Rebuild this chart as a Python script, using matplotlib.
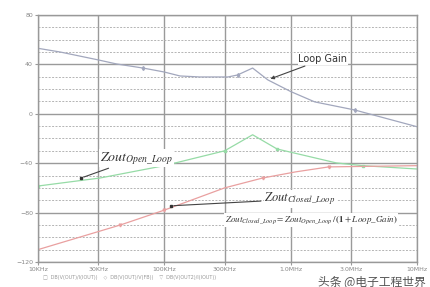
import numpy as np
import matplotlib
matplotlib.use("Agg")
import matplotlib.pyplot as plt

plt.rcParams["mathtext.fontset"] = "stix"

# values (frequency in Hz, level in dB)
loop_f = [1e4, 1.5e4, 3.0e4, 4.2e4, 6.8e4, 1.0e5, 1.33e5, 1.9e5, 3.2e5, 3.8e5, 5.0e5, 6.6e5, 1.0e6, 1.55e6, 3.2e6, 1.0e7]
loop_db = [53, 50, 43.6, 40.3, 37, 33.8, 30.6, 29.8, 29.8, 31.4, 37, 27.4, 18, 9.6, 3.1, -10.5]

zol_f = [1e4, 3.1e4, 1.0e5, 3.0e5, 5.0e5, 7.8e5, 2.3e6, 3.7e6, 1.0e7]
zol_db = [-58.5, -52, -42, -30, -17, -28.5, -39.8, -42, -44.7]

zcl_f = [1e4, 4.5e4, 1.0e5, 3.0e5, 6.0e5, 1.1e6, 2.0e6, 1.0e7]
zcl_db = [-110, -90, -78, -60, -52, -47, -43, -42]

xticks = [1e4, 3e4, 1e5, 3e5, 1e6, 3e6, 1e7]
xlabels = ["10KHz", "30KHz", "100KHz", "300KHz", "1.0MHz", "3.0MHz", "10MHz"]
yticks = [-120, -80, -40, 0, 40, 80]

fig = plt.figure(figsize=(4.3, 2.87), dpi=100)
ax = fig.add_axes([0.088, 0.087, 0.882, 0.861])
ax.set_xscale("log")
ax.set_xlim(1e4, 1e7)
ax.set_ylim(-120, 80)

ax.set_xticks(xticks)
ax.set_xticklabels(xlabels)
ax.minorticks_off()
ax.set_yticks(yticks)
ax.set_yticks(np.arange(-110, 80, 10), minor=True)
ax.tick_params(labelsize=4.5, labelcolor="#888888", color="#999999", length=2, pad=1.5)
ax.tick_params(which="minor", length=0)
ax.grid(True, which="major", color="#9a9a9a", lw=1.0)
ax.yaxis.grid(True, which="minor", color="#b4b4b4", lw=0.7, ls=(0, (2, 1.5)))
for s in ax.spines.values():
    s.set_color("#999999")
    s.set_linewidth(1.0)

ax.plot(loop_f, loop_db, color="#a2a7bd", lw=0.9, marker="d", ms=2, markevery=[4, 9, 14])
ax.plot(zol_f, zol_db, color="#96dba6", lw=0.9, marker="s", ms=2, markevery=[0, 3, 5, 7])
ax.plot(zcl_f, zcl_db, color="#e9a0a0", lw=0.9, marker="v", ms=2, markevery=[1, 2, 4, 6])

box = dict(facecolor="white", edgecolor="none", pad=0.5)
arrow = dict(arrowstyle="-|>", color="#444444", lw=0.8, mutation_scale=5)
dot = dict(arrowstyle="-", color="#444444", lw=0.8)

ax.annotate("Loop Gain", xy=(6.6e5, 27.5), xytext=(1.15e6, 44), fontsize=7, color="#333333",
            va="center", bbox=box, arrowprops=arrow)

ax.annotate(r"$\mathit{Zout}_{Open\_Loop}$", xy=(2.2e4, -52), xytext=(3.1e4, -36), fontsize=10,
            color="#333333", va="center", bbox=box, arrowprops=dot)
ax.plot([2.2e4], [-52], "s", color="#333333", ms=2)

ax.annotate(r"$\mathit{Zout}_{Closed\_Loop}$", xy=(1.13e5, -74.5), xytext=(6.2e5, -69), fontsize=9,
            color="#333333", va="center", bbox=box, arrowprops=dot)
ax.plot([1.13e5], [-74.5], "s", color="#333333", ms=2)

ax.text(3.0e5, -86, r"$\mathit{Zout}_{Closed\_Loop}=\mathit{Zout}_{Open\_Loop}\,/\,\mathbf{(1}+\mathit{Loop\_Gain}\mathbf{)}$",
        fontsize=6.5, color="#333333", va="center", bbox=box)

fig.text(0.1, 0.028, "\u25a1  DB(V(OUT)/I(IOUT))    \u25c7  DB(V(OUT)/V(FB))    \u25bd  DB(V(OUT2)/I(IOUT))",
         fontsize=3.5, color="#999999")
fig.text(0.74, 0.008, "头条 @电子工程世界", fontsize=8.5, color="#555555",
         family=["Noto Sans CJK SC", "DejaVu Sans"])

fig.savefig("out.png", dpi=100)
